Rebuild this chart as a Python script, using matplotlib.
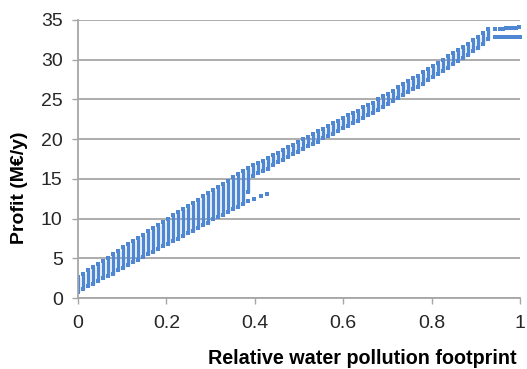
import matplotlib.pyplot as plt

plt.rcParams['font.family'] = ['Liberation Sans', 'DejaVu Sans']

# column positions (relative water pollution footprint)
x_cols = [0.000, 0.011, 0.023, 0.034, 0.045, 0.057, 0.068, 0.079, 0.090, 0.102,
          0.113, 0.124, 0.136, 0.147, 0.158, 0.170, 0.181, 0.192, 0.203, 0.215,
          0.226, 0.237, 0.249, 0.260, 0.271, 0.283, 0.294, 0.305, 0.316, 0.328,
          0.339, 0.350, 0.362, 0.373, 0.384, 0.396, 0.407, 0.418, 0.429, 0.441,
          0.452, 0.463, 0.475, 0.486, 0.497, 0.509, 0.520, 0.531, 0.542, 0.554,
          0.565, 0.576, 0.588, 0.599, 0.610, 0.622, 0.633, 0.644, 0.655, 0.667,
          0.678, 0.689, 0.701, 0.712, 0.723, 0.735, 0.746, 0.757, 0.768, 0.780,
          0.791, 0.802, 0.814, 0.825, 0.836, 0.848, 0.859, 0.870, 0.881, 0.893,
          0.904, 0.915, 0.927]

# highest profit in each column (M€/y)
profit_top = [2.7, 3.1, 3.5, 3.9, 4.3, 4.7, 5.1, 5.5, 5.9, 6.4,
              6.8, 7.2, 7.6, 8.0, 8.4, 8.8, 9.2, 9.6, 10.0, 10.4,
              10.8, 11.2, 11.6, 12.0, 12.4, 12.8, 13.2, 13.6, 14.0, 14.4,
              14.8, 15.2, 15.6, 16.0, 16.4, 16.7, 17.0, 17.3, 17.6, 18.0,
              18.3, 18.6, 19.0, 19.3, 19.6, 20.0, 20.3, 20.6, 21.0, 21.3,
              21.6, 22.0, 22.3, 22.6, 23.0, 23.3, 23.6, 24.0, 24.3, 24.6,
              25.0, 25.4, 25.7, 26.1, 26.5, 26.9, 27.3, 27.7, 28.0, 28.4,
              28.8, 29.2, 29.6, 30.0, 30.4, 30.8, 31.2, 31.6, 32.0, 32.5,
              32.9, 33.4, 33.9]

# lowest profit in each column (M€/y)
profit_low = [0.8, 1.1, 1.5, 1.8, 2.1, 2.5, 2.8, 3.1, 3.5, 3.8,
              4.2, 4.5, 4.8, 5.2, 5.5, 5.8, 6.2, 6.5, 6.8, 7.2,
              7.5, 7.8, 8.2, 8.5, 8.8, 9.2, 9.5, 9.9, 10.2, 10.5,
              10.9, 11.2, 11.5, 11.9, 13.3, 15.4, 15.7, 16.0, 16.3, 16.7,
              17.1, 17.4, 17.7, 18.1, 18.4, 18.8, 19.1, 19.4, 19.7, 20.1,
              20.4, 20.7, 21.0, 21.4, 21.7, 22.0, 22.3, 22.7, 23.0, 23.3,
              23.7, 24.1, 24.4, 24.8, 25.2, 25.6, 25.9, 26.3, 26.6, 27.0,
              27.4, 27.8, 28.2, 28.6, 29.0, 29.4, 29.8, 30.2, 30.6, 31.1,
              31.5, 32.0, 32.6]

# stray points below the band near 0.4
stray_x = [0.385, 0.397, 0.415, 0.428]
stray_y = [12.2, 12.5, 12.8, 13.1]

# two flat rows at the right end
row_hi_x = [0.942, 0.955, 0.962, 0.969, 0.976, 0.983, 0.991, 0.998]
row_hi_y = [33.85, 33.88, 33.9, 33.93, 33.96, 33.99, 34.02, 34.05]
row_lo_x = [0.942, 0.948, 0.957, 0.966, 0.973, 0.980, 0.987, 0.994, 1.0]
row_lo_y = [32.9, 32.9, 32.9, 32.9, 32.9, 32.9, 32.9, 32.9, 32.9]

blue = '#4F87D3'
grid_c = '#A6A6A6'

fig = plt.figure(figsize=(5.27, 3.69), dpi=100)
ax = fig.add_axes([0.148, 0.192, 0.839, 0.754])

ax.vlines(x_cols, profit_low, profit_top, colors=blue, linewidth=2.4)
ax.scatter(x_cols, profit_low, marker='s', s=5, color=blue, linewidths=0)
ax.scatter(x_cols, profit_top, marker='s', s=5, color=blue, linewidths=0)
ax.scatter(stray_x, stray_y, marker='s', s=6, color=blue, linewidths=0)
ax.scatter(row_hi_x, row_hi_y, marker='s', s=6, color=blue, linewidths=0, clip_on=False)
ax.scatter(row_lo_x, row_lo_y, marker='s', s=6, color=blue, linewidths=0, clip_on=False)

ax.set_xlim(0, 1)
ax.set_ylim(0, 35)
ax.set_xticks([0, 0.2, 0.4, 0.6, 0.8, 1.0])
ax.set_xticklabels(['0', '0.2', '0.4', '0.6', '0.8', '1'])
ax.set_yticks(range(0, 36, 5))
ax.tick_params(labelsize=14, colors='#262626', length=4, width=1.0)
ax.tick_params(axis='x', color=grid_c, pad=8)
ax.tick_params(axis='y', color=grid_c, pad=7)

ax.yaxis.grid(True, color=grid_c, linewidth=1.3)
ax.set_axisbelow(True)
for side in ['top', 'right']:
    ax.spines[side].set_visible(False)
for side in ['left', 'bottom']:
    ax.spines[side].set_color(grid_c)
    ax.spines[side].set_linewidth(1.3)

fig.text(208 / 527, 1 - 358 / 369, 'Relative water pollution footprint',
         fontsize=14.2, fontweight='bold', ha='left', va='center')
fig.text(20 / 527, 1 - 188 / 369, 'Profit (M€/y)', fontsize=14,
         fontweight='bold', rotation=90, ha='center', va='center')

fig.savefig('out.png', dpi=100)
